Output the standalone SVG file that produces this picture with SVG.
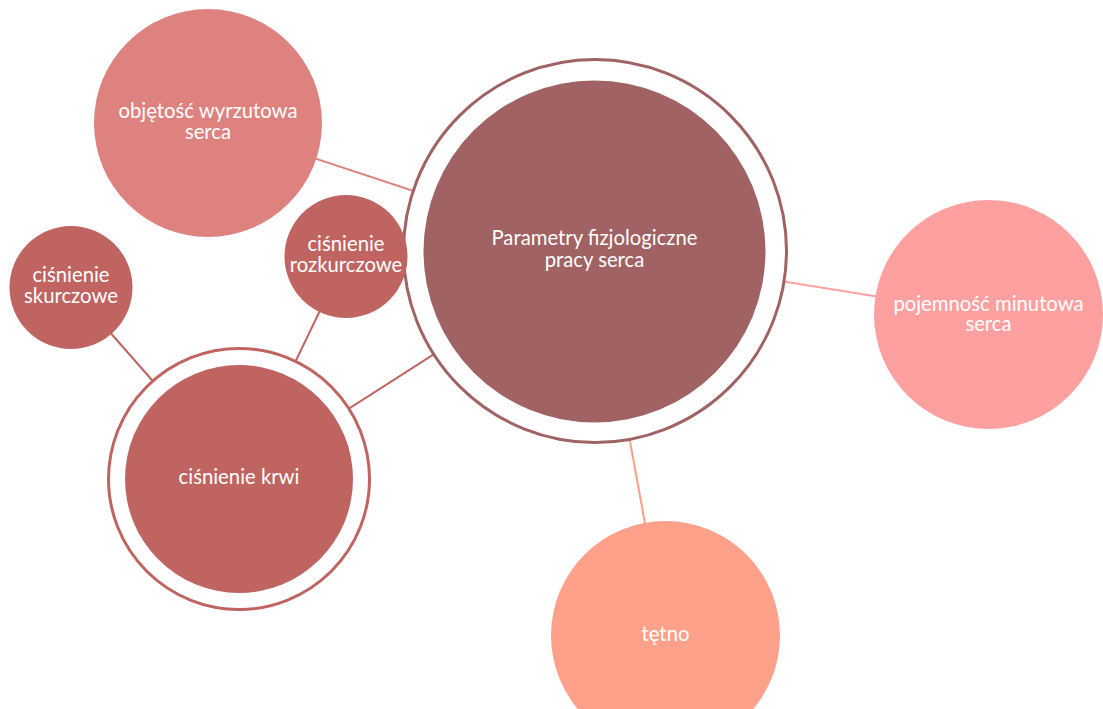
<svg xmlns="http://www.w3.org/2000/svg" width="1103" height="709" viewBox="0 0 1103 709">
<style>
text{font-family:Lato,"Open Sans","DejaVu Sans",sans-serif;font-size:20.3px;fill:#ffffff;text-anchor:middle}
.e{stroke-width:2;fill:none}
</style>
<rect width="1103" height="709" fill="#ffffff"/>
<g id="connectors">
<line class="e" x1="208" y1="123" x2="595" y2="251" stroke="#de8280"/>
<line class="e" x1="595" y1="251" x2="988.5" y2="314.5" stroke="#ffa0a0"/>
<line class="e" x1="595" y1="251" x2="665.5" y2="635" stroke="#ffa08a"/>
<line class="e" x1="595" y1="251" x2="239" y2="479" stroke="#bf6461"/>
<line class="e" x1="71" y1="288" x2="239" y2="479" stroke="#bf6461"/>
<line class="e" x1="346" y1="256.5" x2="239" y2="479" stroke="#bf6461"/>
</g>
<g id="node-central">
<circle cx="595" cy="251" r="191.5" fill="#ffffff" stroke="#a06262" stroke-width="3"/>
<circle cx="594.5" cy="251.5" r="171" fill="#a06262"/>
<text x="594.5" y="245">Parametry fizjologiczne</text>
<text x="594.5" y="267">pracy serca</text>
</g>
<g id="node-objetosc">
<circle cx="208" cy="123" r="114" fill="#de8280"/>
<text x="208" y="118">objętość wyrzutowa</text>
<text x="208" y="139">serca</text>
</g>
<g id="node-skurczowe">
<circle cx="71" cy="287.5" r="61.5" fill="#bf6461"/>
<text x="71" y="282">ciśnienie</text>
<text x="71" y="303">skurczowe</text>
</g>
<g id="node-rozkurczowe">
<circle cx="346" cy="256.5" r="61.5" fill="#bf6461"/>
<text x="346" y="251">ciśnienie</text>
<text x="346" y="272">rozkurczowe</text>
</g>
<g id="node-krwi">
<circle cx="239" cy="479" r="130.5" fill="#ffffff" stroke="#bf6461" stroke-width="3"/>
<circle cx="239" cy="479" r="114" fill="#bf6461"/>
<text x="239" y="484">ciśnienie krwi</text>
</g>
<g id="node-pojemnosc">
<circle cx="988.5" cy="314.5" r="114.5" fill="#ffa0a0"/>
<text x="988.5" y="311">pojemność minutowa</text>
<text x="988.5" y="331">serca</text>
</g>
<g id="node-tetno">
<circle cx="665.5" cy="635.5" r="114.5" fill="#ffa08a"/>
<text x="665.5" y="641">tętno</text>
</g>
</svg>
